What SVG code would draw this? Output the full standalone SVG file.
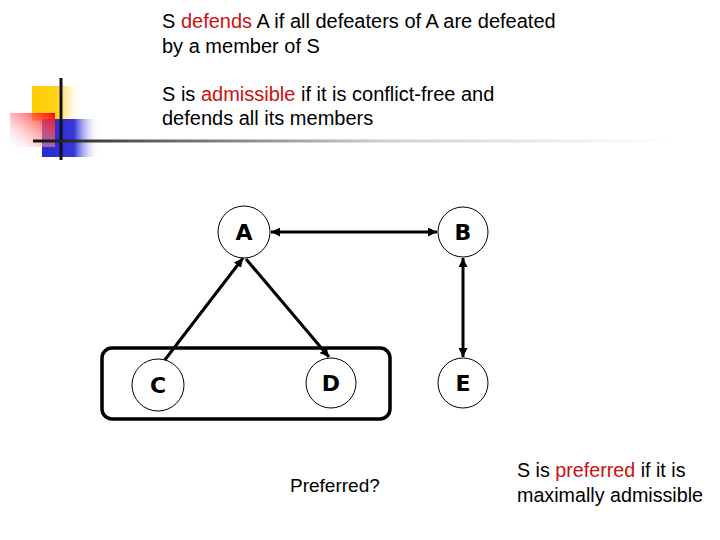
<svg xmlns="http://www.w3.org/2000/svg" width="720" height="540" viewBox="0 0 720 540">
  <style>
    .t { font-family: "Liberation Sans", Arial, sans-serif; font-size: 20px; fill: #000; }
    .b { font-family: "Liberation Sans", Arial, sans-serif; font-size: 19px; fill: #000; }
    .b2 { font-family: "Liberation Sans", Arial, sans-serif; font-size: 19.7px; fill: #000; }
    .red { fill: #cc1111; }
    .node circle { fill: #fff; stroke: #000; stroke-width: 1; }
    .node text { font-family: "DejaVu Sans", Verdana, sans-serif; font-weight: bold; font-size: 22px; text-anchor: middle; fill: #000; }
    .edge { stroke: #000; stroke-width: 3; fill: none; }
  </style>
  <defs>
    <linearGradient id="gy" x1="0" y1="0" x2="1" y2="0">
      <stop offset="0" stop-color="#ffcc00"/>
      <stop offset="0.5" stop-color="#ffd21a"/>
      <stop offset="1" stop-color="#ffffff" stop-opacity="0"/>
    </linearGradient>
    <linearGradient id="gb" x1="0" y1="0" x2="1" y2="0">
      <stop offset="0" stop-color="#2a2ad0"/>
      <stop offset="0.55" stop-color="#3535d8"/>
      <stop offset="1" stop-color="#ffffff" stop-opacity="0"/>
    </linearGradient>
    <linearGradient id="gr" x1="1" y1="0" x2="0" y2="1">
      <stop offset="0" stop-color="#ff0000"/>
      <stop offset="1" stop-color="#ffffff" stop-opacity="0.2"/>
    </linearGradient>
    <linearGradient id="gl" gradientUnits="userSpaceOnUse" x1="33" y1="0" x2="675" y2="0">
      <stop offset="0" stop-color="#111"/>
      <stop offset="0.15" stop-color="#555"/>
      <stop offset="0.55" stop-color="#d0d0d0"/>
      <stop offset="1" stop-color="#ffffff"/>
    </linearGradient>
    <marker id="ah" viewBox="0 0 10 10" refX="10" refY="5" markerWidth="9" markerHeight="9" markerUnits="userSpaceOnUse" orient="auto-start-reverse">
      <path d="M0,0 L10,5 L0,10 z" fill="#000"/>
    </marker>
  </defs>

  <g id="decoration">
    <rect x="32" y="86" width="50" height="35" fill="url(#gy)"/>
    <rect x="42" y="119" width="58" height="38" fill="url(#gb)"/>
    <rect x="10" y="113" width="45" height="34" fill="url(#gr)"/>
    <line x1="61" y1="78" x2="61" y2="160" stroke="#111" stroke-width="3"/>
    <line x1="33" y1="141" x2="675" y2="141" stroke="url(#gl)" stroke-width="3"/>
  </g>

  <g id="text-top">
    <text class="t" x="162" y="28">S <tspan class="red">defends</tspan> A if all defeaters of A are defeated</text>
    <text class="t" x="162" y="53">by a member of S</text>
    <text class="t" x="162" y="101">S is <tspan class="red">admissible</tspan> if it is conflict-free and</text>
    <text class="t" x="162" y="125">defends all its members</text>
  </g>

  <g id="set-S">
    <rect x="102" y="348" width="288" height="71" rx="10" ry="10" fill="none" stroke="#000" stroke-width="3.5"/>
  </g>

  <g id="connectors">
    <line class="edge" x1="271" y1="232" x2="437" y2="232" marker-start="url(#ah)" marker-end="url(#ah)"/>
    <line class="edge" x1="463" y1="258" x2="463" y2="357" marker-start="url(#ah)" marker-end="url(#ah)"/>
    <line class="edge" x1="164" y1="361" x2="243" y2="258" marker-end="url(#ah)"/>
    <line class="edge" x1="246" y1="259" x2="329" y2="357" marker-end="url(#ah)"/>
  </g>

  <g id="node-A" class="node"><circle cx="244" cy="232" r="26"/><text x="244" y="240">A</text></g>
  <g id="node-B" class="node"><circle cx="463" cy="232" r="25"/><text x="463" y="240">B</text></g>
  <g id="node-C" class="node"><circle cx="158" cy="385" r="26"/><text x="158" y="393">C</text></g>
  <g id="node-D" class="node"><circle cx="331" cy="383" r="25"/><text x="331" y="391">D</text></g>
  <g id="node-E" class="node"><circle cx="463" cy="383" r="25"/><text x="463" y="391">E</text></g>

  <g id="text-bottom">
    <text class="b" x="290" y="492">Preferred?</text>
    <text class="b2" x="517" y="477">S is <tspan class="red">preferred</tspan> if it is</text>
    <text class="b2" x="517" y="502">maximally admissible</text>
  </g>
</svg>
